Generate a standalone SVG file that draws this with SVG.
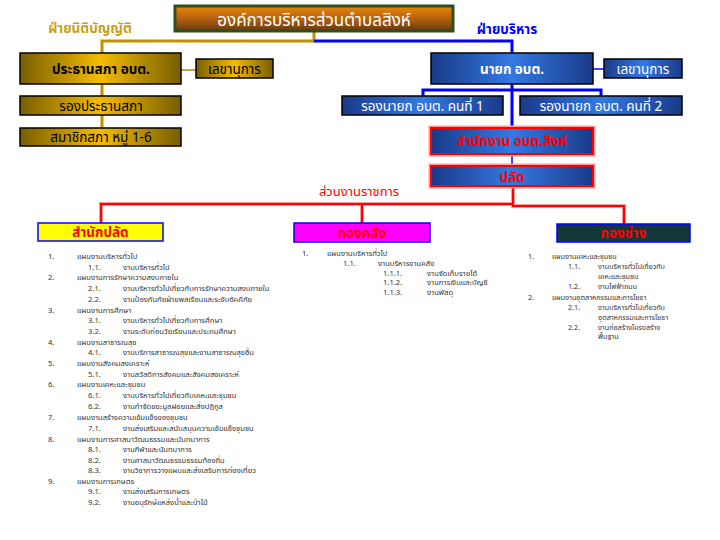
<svg xmlns="http://www.w3.org/2000/svg" width="720" height="540" viewBox="0 0 720 540">
<defs>
<linearGradient id="gTitle" x1="0" y1="0" x2="0" y2="1">
<stop offset="0" stop-color="#EC860C"/><stop offset="0.5" stop-color="#B4620E"/><stop offset="1" stop-color="#6A380E"/>
</linearGradient>
<linearGradient id="gGold" x1="0" y1="0" x2="1" y2="0">
<stop offset="0" stop-color="#785E00"/><stop offset="0.5" stop-color="#F4BC00"/><stop offset="1" stop-color="#785E00"/>
</linearGradient>
<linearGradient id="gBlue" x1="0" y1="0" x2="1" y2="0">
<stop offset="0" stop-color="#1A3A88"/><stop offset="0.5" stop-color="#3479E2"/><stop offset="1" stop-color="#1A3A88"/>
</linearGradient>
<style>
text{font-family:"Noto Sans Thai","Tahoma","DejaVu Sans","Noto Sans",sans-serif}
.gold{fill:url(#gGold);stroke:#000;stroke-width:1.5}
.blue{fill:url(#gBlue);stroke:#000;stroke-width:1.5}
.redb{fill:url(#gBlue);stroke:#FF0000;stroke-width:2}
.glow{fill:none;stroke:#FF9A9A;stroke-width:5}
.t{font-size:13.5px;text-anchor:middle}
.b{font-weight:bold}
.wk{fill:#000}
.wh{fill:#fff}
.rd{fill:#FF0000}
.cg{fill:none;stroke:#C09000;stroke-width:3}
.cb{fill:none;stroke:#0000FF;stroke-width:3}
.cbt{fill:none;stroke:#0000FF;stroke-width:1.5}
.cgt{fill:none;stroke:#B08800;stroke-width:1.5}
.crg{fill:none;stroke:#FF9A9A;stroke-width:4}
.cr{fill:none;stroke:#FF0000;stroke-width:2}
.dept{stroke:#0000FF;stroke-width:1.5}
.l{font-size:7.6px;fill:#333}
.lr{font-size:7.2px;fill:#333}
</style>
</defs>
<rect width="720" height="540" fill="#fff"/>

<g id="connectors">
<path class="cg" d="M314,31 V41 H102 V53"/>
<path class="cg" d="M102,84 V96 M102,115 V128"/>
<path class="cgt" d="M181,70 H196"/>
<path class="cb" d="M314,41 H512 V53"/>
<path class="cb" d="M512,84 V128 M423,96 V90 H601 V96"/>
<path class="cbt" d="M593,69 H604 M512,154 V166"/>
<path class="crg" d="M513,187 V204 H101 V223 M362,204 V223 M513,204 V206 H624 V224"/>
<path class="cr" d="M513,187 V204 H101 V223 M362,204 V223 M513,204 V206 H624 V224"/>
</g>

<g id="title">
<rect x="175" y="6" width="278" height="25" fill="url(#gTitle)" stroke="#2E4F1C" stroke-width="3"/>
<text x="314" y="25.5" class="t wh" style="font-size:17px">องค์การบริหารส่วนตำบลสิงห์</text>
</g>

<g id="label-legislative"><text x="90" y="33" class="t b" style="fill:#C8A020">ฝ่ายนิติบัญญัติ</text></g>
<g id="label-executive"><text x="507" y="34" class="t b" style="fill:#0000FF">ฝ่ายบริหาร</text></g>

<g id="council-chair">
<rect x="20" y="53" width="161" height="31" class="gold"/>
<text x="101" y="73.5" class="t b wk">ประธานสภา อบต.</text>
</g>
<g id="council-secretary">
<rect x="196" y="59" width="77" height="19" class="gold"/>
<text x="234.5" y="73.5" class="t wk">เลขานุการ</text>
</g>
<g id="council-vice">
<rect x="20" y="96" width="161" height="19" class="gold"/>
<text x="101" y="110.5" class="t wk">รองประธานสภา</text>
</g>
<g id="council-members">
<rect x="20" y="128" width="161" height="18" class="gold"/>
<text x="101" y="142" class="t wk">สมาชิกสภา หมู่ 1-6</text>
</g>

<g id="mayor">
<rect x="431" y="53" width="162" height="31" class="blue"/>
<text x="512" y="73.5" class="t b wh">นายก อบต.</text>
</g>
<g id="mayor-secretary">
<rect x="604" y="59" width="78" height="19" class="blue"/>
<text x="643" y="73.5" class="t wh">เลขานุการ</text>
</g>
<g id="deputy-1">
<rect x="342" y="96" width="161" height="19" class="blue"/>
<text x="422.5" y="110.5" class="t wh">รองนายก อบต. คนที่ 1</text>
</g>
<g id="deputy-2">
<rect x="520" y="96" width="162" height="19" class="blue"/>
<text x="601" y="110.5" class="t wh">รองนายก อบต. คนที่ 2</text>
</g>
<g id="office">
<rect x="431" y="128" width="162" height="26" class="glow"/>
<rect x="431" y="128" width="162" height="26" class="redb"/>
<text x="512" y="146" class="t b rd">สำนักงาน อบต.สิงห์</text>
</g>
<g id="palat">
<rect x="431" y="166" width="162" height="20" class="glow"/>
<rect x="431" y="166" width="162" height="20" class="redb"/>
<text x="512" y="181.5" class="t b rd">ปลัด</text>
</g>

<g id="label-agencies"><text x="359" y="196" class="t rd" style="font-size:13px">ส่วนงานราชการ</text></g>

<g id="dept-palat">
<rect x="38" y="223" width="125" height="18" fill="#FFFF00" class="dept"/>
<text x="100.5" y="237" class="t b rd">สำนักปลัด</text>
<g class="l">
<text x="48" y="259">1.</text><text x="77" y="259">แผนงานบริหารทั่วไป</text>
<text x="88" y="269.7">1.1.</text><text x="123" y="269.7">งานบริหารทั่วไป</text>
<text x="48" y="280.4">2.</text><text x="77" y="280.4">แผนงานการรักษาความสงบภายใน</text>
<text x="88" y="291.1">2.1.</text><text x="123" y="291.1">งานบริหารทั่วไปเกี่ยวกับการรักษาความสงบภายใน</text>
<text x="88" y="301.8">2.2.</text><text x="123" y="301.8">งานป้องกันภัยฝ่ายพลเรือนและระงับอัคคีภัย</text>
<text x="48" y="312.5">3.</text><text x="77" y="312.5">แผนงานการศึกษา</text>
<text x="88" y="323.2">3.1.</text><text x="123" y="323.2">งานบริหารทั่วไปเกี่ยวกับการศึกษา</text>
<text x="88" y="333.9">3.2.</text><text x="123" y="333.9">งานระดับก่อนวัยเรียนและประถมศึกษา</text>
<text x="48" y="344.6">4.</text><text x="77" y="344.6">แผนงานสาธารณสุข</text>
<text x="88" y="355.3">4.1.</text><text x="123" y="355.3">งานบริการสาธารณสุขและงานสาธารณสุขอื่น</text>
<text x="48" y="366">5.</text><text x="77" y="366">แผนงานสังคมสงเคราะห์</text>
<text x="88" y="376.7">5.1.</text><text x="123" y="376.7">งานสวัสดิการสังคมและสังคมสงเคราะห์</text>
<text x="48" y="387.4">6.</text><text x="77" y="387.4">แผนงานเคหะและชุมชน</text>
<text x="88" y="398.1">6.1.</text><text x="123" y="398.1">งานบริหารทั่วไปเกี่ยวกับเคหะและชุมชน</text>
<text x="88" y="408.8">6.2.</text><text x="123" y="408.8">งานกำจัดขยะมูลฝอยและสิ่งปฏิกูล</text>
<text x="48" y="420">7.</text><text x="77" y="420">แผนงานสร้างความเข้มแข็งของชุมชน</text>
<text x="88" y="431">7.1.</text><text x="123" y="431">งานส่งเสริมและสนับสนุนความเข้มแข็งชุมชน</text>
<text x="48" y="441.5">8.</text><text x="77" y="441.5">แผนงานการศาสนาวัฒนธรรมและนันทนาการ</text>
<text x="88" y="452">8.1.</text><text x="123" y="452">งานกีฬาและนันทนาการ</text>
<text x="88" y="462.5">8.2.</text><text x="123" y="462.5">งานศาสนาวัฒนธรรมธรรมท้องถิ่น</text>
<text x="88" y="473">8.3.</text><text x="123" y="473">งานวิชาการวางแผนและส่งเสริมการท่องเที่ยว</text>
<text x="48" y="483.7">9.</text><text x="77" y="483.7">แผนงานการเกษตร</text>
<text x="88" y="494.4">9.1.</text><text x="123" y="494.4">งานส่งเสริมการเกษตร</text>
<text x="88" y="505">9.2.</text><text x="123" y="505">งานอนุรักษ์แหล่งน้ำและป่าไม้</text>
</g>
</g>

<g id="dept-finance">
<rect x="294" y="223" width="136" height="19" fill="#FF00FF" class="dept"/>
<text x="362" y="237.5" class="t b rd">กองคลัง</text>
<g class="l">
<text x="302" y="256">1.</text><text x="327" y="256">แผนงานบริหารทั่วไป</text>
<text x="343" y="265.8">1.1.</text><text x="378" y="265.8">งานบริหารงานคลัง</text>
<text x="383" y="275.6">1.1.1.</text><text x="427" y="275.6">งานจัดเก็บรายได้</text>
<text x="383" y="285.4">1.1.2.</text><text x="427" y="285.4">งานการเงินและบัญชี</text>
<text x="383" y="295.2">1.1.3.</text><text x="427" y="295.2">งานพัสดุ</text>
</g>
</g>

<g id="dept-works">
<rect x="557" y="224" width="133" height="18" fill="#133838" class="dept"/>
<text x="623.5" y="238" class="t b rd">กองช่าง</text>
<g class="lr">
<text x="528" y="259">1.</text><text x="552" y="259">แผนงานเคหะและชุมชน</text>
<text x="568" y="268.8">1.1.</text><text x="598" y="268.8">งานบริหารทั่วไปเกี่ยวกับ</text>
<text x="598" y="278.6">เคหะและชุมชน</text>
<text x="568" y="289.4">1.2.</text><text x="598" y="289.4">งานไฟฟ้าถนน</text>
<text x="528" y="300.2">2.</text><text x="552" y="300.2">แผนงานอุตสาหกรรมและการโยธา</text>
<text x="568" y="310">2.1.</text><text x="598" y="310">งานบริหารทั่วไปเกี่ยวกับ</text>
<text x="598" y="319.8">อุตสาหกรรมและการโยธา</text>
<text x="568" y="329.6">2.2.</text><text x="598" y="329.6">งานก่อสร้างโครงสร้าง</text>
<text x="598" y="339.4">พื้นฐาน</text>
</g>
</g>
</svg>
